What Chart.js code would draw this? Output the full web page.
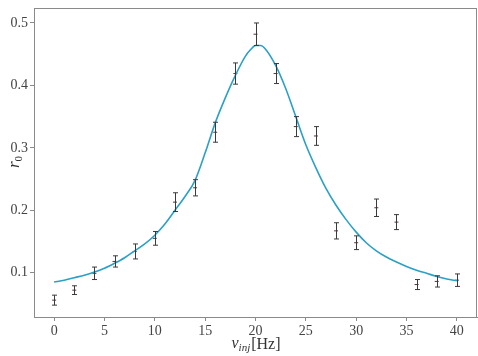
<!DOCTYPE html>
<html>
<head>
<meta charset="utf-8">
<style>
  html, body { margin: 0; padding: 0; background: #fff; }
  #wrap { width: 478px; height: 356px; }
</style>
</head>
<body>
<div id="wrap"><canvas id="chart" width="478" height="356"></canvas></div>
<script src="https://cdn.jsdelivr.net/npm/chart.js@4.4.1/dist/chart.umd.min.js"></script>
<script>
// measured points (injection frequency, r0, error)
const nuInj = [0, 2, 4, 6, 8, 10, 12, 14, 16, 18, 20, 22, 24, 26, 28, 30, 32, 34, 36, 38, 40];
const r0 = [0.056, 0.072, 0.099, 0.118, 0.134, 0.155, 0.213, 0.236, 0.325, 0.419, 0.482, 0.419, 0.334, 0.319, 0.167, 0.148, 0.204, 0.181, 0.081, 0.086, 0.088];
const r0Err = [0.008, 0.007, 0.010, 0.009, 0.012, 0.011, 0.015, 0.013, 0.016, 0.017, 0.018, 0.016, 0.016, 0.015, 0.013, 0.011, 0.014, 0.012, 0.008, 0.009, 0.010];

// fitted curve
const fitNu = [0, 1, 2, 3, 4, 5, 6, 7, 8, 9, 10, 11, 12, 13, 14, 15, 16, 17, 18, 19, 19.5, 20, 20.5, 21, 22, 23, 24, 25, 26, 27, 28, 29, 30, 31, 32, 33, 34, 35, 36, 37, 38, 39, 40];
const fitR = [0.085, 0.088, 0.092, 0.096, 0.101, 0.107, 0.115, 0.124, 0.135, 0.146, 0.160, 0.178, 0.200, 0.222, 0.248, 0.292, 0.340, 0.380, 0.416, 0.447, 0.457, 0.464, 0.464, 0.458, 0.432, 0.395, 0.350, 0.305, 0.268, 0.235, 0.208, 0.185, 0.165, 0.148, 0.135, 0.125, 0.117, 0.110, 0.104, 0.099, 0.094, 0.090, 0.087];

const xTicks = [0, 5, 10, 15, 20, 25, 30, 35, 40];
const yTicks = [0.1, 0.2, 0.3, 0.4, 0.5];

const serif = '"Liberation Serif", "DejaVu Serif", serif';
const spine = '#8a8a8a';

// error bars with caps, drawn through the scales
const errorBars = {
  id: 'errorBars',
  afterDatasetsDraw(chart) {
    const { ctx, scales: { x, y } } = chart;
    ctx.save();
    ctx.strokeStyle = '#3a3a3a';
    ctx.lineWidth = 1;
    nuInj.forEach((v, i) => {
      const px = Math.round(x.getPixelForValue(v)) + 0.5;
      const top = y.getPixelForValue(r0[i] + r0Err[i]);
      const bot = y.getPixelForValue(r0[i] - r0Err[i]);
      ctx.beginPath();
      ctx.moveTo(px, top); ctx.lineTo(px, bot);
      ctx.moveTo(px - 2.5, top); ctx.lineTo(px + 2.5, top);
      ctx.moveTo(px - 2.5, bot); ctx.lineTo(px + 2.5, bot);
      ctx.stroke();
    });
    ctx.restore();
  }
};

// box around plot + axis titles
const frame = {
  id: 'frame',
  afterDraw(chart) {
    const { ctx, chartArea: a } = chart;
    ctx.save();
    ctx.strokeStyle = spine;
    ctx.lineWidth = 1;
    ctx.strokeRect(a.left + 0.5, a.top + 0.5, a.right - a.left - 1, a.bottom - a.top);

    ctx.fillStyle = '#333';
    ctx.textBaseline = 'alphabetic';
    // x title: ν_inj [Hz]
    const big = 'italic 16px ' + serif, sub = 'italic 11px ' + serif, up = '16px ' + serif;
    ctx.font = big; const w1 = ctx.measureText('ν').width;
    ctx.font = sub; const w2 = ctx.measureText('inj').width;
    ctx.font = up; const w3 = ctx.measureText('[Hz]').width;
    let sx = (a.left + a.right) / 2 - (w1 + w2 + w3) / 2;
    const by = 349;
    ctx.font = big; ctx.fillText('ν', sx, by - 1); sx += w1;
    ctx.font = sub; ctx.fillText('inj', sx, by + 2); sx += w2 + 1;
    ctx.font = up; ctx.fillText('[Hz]', sx, by);

    // y title: r_0
    ctx.translate(19, 162);
    ctx.rotate(-Math.PI / 2);
    ctx.font = 'italic 17px ' + serif;
    const r = ctx.measureText('r').width;
    ctx.fillText('r', -6, 0);
    ctx.font = '11px ' + serif;
    ctx.fillText('0', -6 + r, 3);
    ctx.restore();
  }
};

new Chart(document.getElementById('chart'), {
  data: {
    datasets: [
      {
        type: 'line',
        data: fitNu.map((v, i) => ({ x: v, y: fitR[i] })),
        borderColor: '#2aa0c8',
        borderWidth: 1.6,
        pointRadius: 0,
        cubicInterpolationMode: 'monotone',
        fill: false
      },
      {
        type: 'scatter',
        data: nuInj.map((v, i) => ({ x: v, y: r0[i] })),
        pointStyle: 'line',
        pointRadius: 2,
        borderColor: '#553333',
        borderWidth: 1,
        backgroundColor: '#553333'
      }
    ]
  },
  options: {
    responsive: false,
    animation: false,
    layout: { autoPadding: false, padding: { left: 0, right: 1, top: 8, bottom: 0 } },
    plugins: { legend: { display: false }, tooltip: { enabled: false } },
    scales: {
      x: {
        type: 'linear',
        min: -2, max: 42,
        afterBuildTicks: s => { s.ticks = xTicks.map(v => ({ value: v })); },
        afterFit: s => { s.height = 39; s.paddingLeft = 0; s.paddingRight = 0; },
        grid: { drawOnChartArea: false, tickLength: 4, color: spine },
        border: { color: spine },
        ticks: { color: '#444', font: { family: serif, size: 14 }, padding: 2, maxRotation: 0 }
      },
      y: {
        type: 'linear',
        min: 0.029, max: 0.524,
        afterBuildTicks: s => { s.ticks = yTicks.map(v => ({ value: v })); },
        afterFit: s => { s.width = 34; s.paddingTop = 0; s.paddingBottom = 0; },
        grid: { drawOnChartArea: false, tickLength: 4, color: spine },
        border: { color: spine },
        ticks: { color: '#444', font: { family: serif, size: 14 }, padding: 2, callback: v => v.toFixed(1) }
      }
    }
  },
  plugins: [errorBars, frame]
});
</script>
</body>
</html>
